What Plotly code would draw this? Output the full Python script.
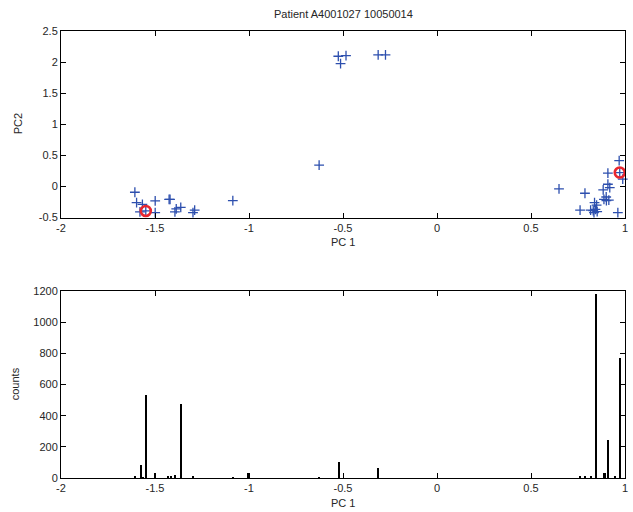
import plotly.graph_objects as go

# ---- data ----
pc1 = [-1.607, -1.598, -1.567, -1.580, -1.549, -1.499, -1.499, -1.425, -1.420,
       -1.394, -1.387, -1.363, -1.289, -1.298, -1.086,
       -0.525, -0.484, -0.513, -0.313, -0.274, -0.627,
       0.969, 0.909, 0.972, 0.988, 0.649, 0.787, 0.909, 0.884, 0.919,
       0.900, 0.888, 0.914, 0.901, 0.838, 0.849, 0.761, 0.817, 0.831,
       0.843, 0.852, 0.835, 0.962]
pc2 = [-0.094, -0.26, -0.29, -0.41, -0.395, -0.234, -0.42, -0.21, -0.21,
       -0.41, -0.36, -0.336, -0.38, -0.42, -0.228,
       2.094, 2.105, 1.976, 2.116, 2.116, 0.342,
       0.416, 0.213, 0.223, 0.116, -0.04, -0.11, 0.035, -0.056, -0.019,
       -0.17, -0.21, -0.22, -0.23, -0.26, -0.30, -0.38, -0.38, -0.39,
       -0.368, -0.406, -0.42, -0.42]

sel_pc1 = [-1.549, 0.972]
sel_pc2 = [-0.395, 0.223]

hist_x = [-1.607, -1.575, -1.561, -1.549, -1.501, -1.430, -1.412, -1.394, -1.363,
          -1.298, -1.085, -1.002, -0.627, -0.521, -0.313,
          0.761, 0.787, 0.822, 0.849, 0.888, 0.897, 0.910, 0.949, 0.972]
hist_counts = [10, 81, 5, 535, 31, 12, 12, 20, 475,
               10, 5, 31, 3, 102, 63,
               10, 10, 15, 1181, 31, 31, 246, 10, 773]

title_text = "Patient A4001027 10050014"
x_tickvals = [-2, -1.5, -1, -0.5, 0, 0.5, 1]
x_ticktext = ["-2", "-1.5", "-1", "-0.5", "0", "0.5", "1"]
y1_tickvals = [-0.5, 0, 0.5, 1, 1.5, 2, 2.5]
y1_ticktext = ["-0.5", "0", "0.5", "1", "1.5", "2", "2.5"]
y2_tickvals = [0, 200, 400, 600, 800, 1000, 1200]
y2_ticktext = ["0", "200", "400", "600", "800", "1000", "1200"]

# ---- layout geometry (pixels) ----
W, H = 633, 512
ml, mr, mt, mb = 61, 5, 31, 34
ph = H - mt - mb
top_bottom_px = 217.5
bot_top_px = 291
dom_top = [(H - mb - top_bottom_px) / ph, 1.0]
dom_bot = [0.0, (H - mb - bot_top_px) / ph]

font = "Liberation Sans, Arial, Helvetica, sans-serif"
txt = "#262626"
blue = "#2d4fae"
red = "#e8262e"

fig = go.Figure()
fig.add_trace(go.Scatter(
    x=pc1, y=pc2, mode="markers", xaxis="x", yaxis="y", cliponaxis=False,
    marker=dict(symbol="cross-thin", size=7, line=dict(width=1.3, color=blue), color=blue),
    showlegend=False))
fig.add_trace(go.Scatter(
    x=sel_pc1, y=sel_pc2, mode="markers", xaxis="x", yaxis="y", cliponaxis=False,
    marker=dict(symbol="circle-open", size=10, line=dict(width=2.6, color=red), color=red),
    showlegend=False))
fig.add_trace(go.Bar(
    x=hist_x, y=hist_counts, xaxis="x2", yaxis="y2", width=0.0075,
    marker=dict(color="black", line=dict(width=0)), showlegend=False))

axis_common = dict(showline=True, linecolor="black", linewidth=1, mirror="ticks",
                   ticks="inside", ticklen=5, tickcolor="black", tickwidth=1,
                   showgrid=False, zeroline=False,
                   tickfont=dict(family=font, size=11, color=txt))

fig.update_layout(
    width=W, height=H, margin=dict(l=ml, r=mr, t=mt, b=mb),
    paper_bgcolor="white", plot_bgcolor="white",
    bargap=0,
    xaxis=dict(domain=[0, 1], range=[-2, 1], anchor="y",
               tickvals=x_tickvals, ticktext=x_ticktext, **axis_common),
    yaxis=dict(domain=dom_top, range=[-0.5, 2.5], anchor="x",
               tickvals=y1_tickvals, ticktext=y1_ticktext, **axis_common),
    xaxis2=dict(domain=[0, 1], range=[-2, 1], anchor="y2",
                tickvals=x_tickvals, ticktext=x_ticktext, **axis_common),
    yaxis2=dict(domain=dom_bot, range=[0, 1200], anchor="x2",
                tickvals=y2_tickvals, ticktext=y2_ticktext, **axis_common),
)

def ypaper(px):
    return (H - mb - px) / ph

ann_font = dict(family=font, size=11, color=txt)
fig.add_annotation(text=title_text, xref="paper", yref="paper", x=0.5, y=ypaper(14),
                   showarrow=False, font=ann_font, yanchor="middle")
fig.add_annotation(text="PC 1", xref="paper", yref="paper", x=0.5, y=ypaper(242),
                   showarrow=False, font=ann_font, yanchor="middle")
fig.add_annotation(text="PC 1", xref="paper", yref="paper", x=0.5, y=ypaper(503),
                   showarrow=False, font=ann_font, yanchor="middle")
fig.add_annotation(text="PC2", xref="paper", yref="paper", x=(18 - ml) / (W - ml - mr),
                   y=ypaper(124), showarrow=False, font=ann_font, textangle=-90,
                   xanchor="center", yanchor="middle")
fig.add_annotation(text="counts", xref="paper", yref="paper", x=(15 - ml) / (W - ml - mr),
                   y=ypaper(384), showarrow=False, font=ann_font, textangle=-90,
                   xanchor="center", yanchor="middle")

fig.write_html("out.html", config={"displayModeBar": False},
               post_script="document.body.style.margin='0px';document.body.style.overflow='hidden';")
